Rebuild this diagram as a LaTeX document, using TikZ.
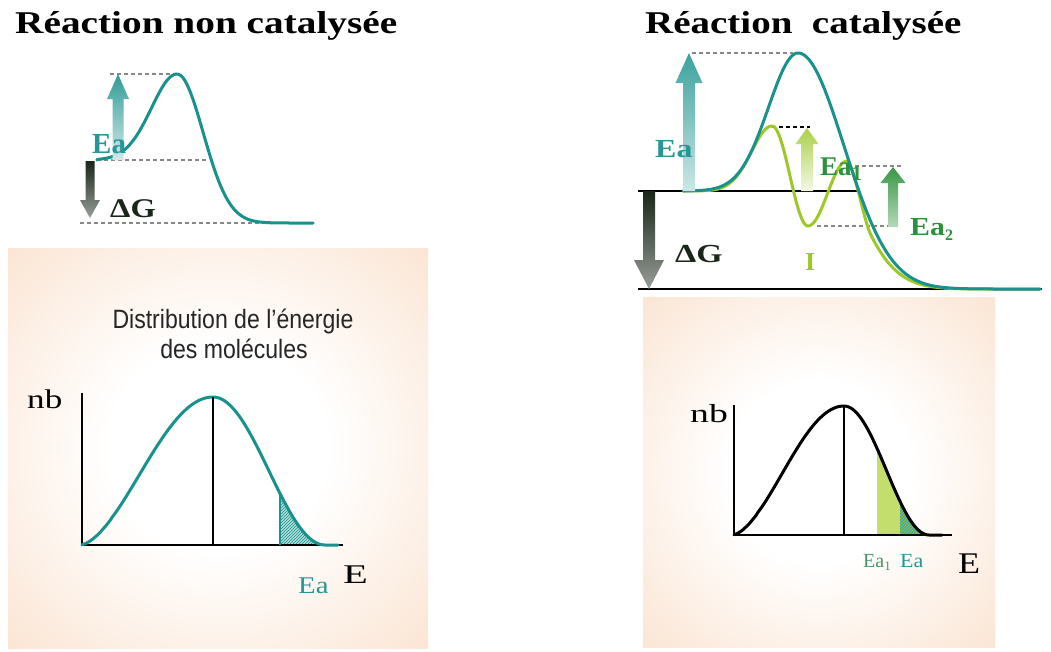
\documentclass[tikz,border=0pt]{standalone}
\usepackage{fontspec}
\usepackage{graphicx}
\setmainfont{Liberation Serif}
\newfontfamily\sansf{Liberation Sans}
\usetikzlibrary{patterns}
\definecolor{tealc}{RGB}{25,145,140}
\definecolor{tealtxt}{RGB}{40,150,150}
\definecolor{yg}{RGB}{158,200,40}
\definecolor{grn}{RGB}{45,145,60}
\definecolor{grnlbl}{RGB}{70,150,100}
\definecolor{peach}{RGB}{250,224,203}
\definecolor{dkg}{RGB}{25,38,25}
\definecolor{dashg}{RGB}{135,135,135}
\definecolor{lighttealfill}{RGB}{175,222,218}
\definecolor{lightyg}{RGB}{196,222,110}
\pgfdeclareradialshading{softglow}{\pgfpoint{0bp}{0bp}}{color(0bp)=(white); color(13bp)=(white); color(40bp)=(peach); color(50bp)=(peach)}
\newcommand{\fs}[1]{\fontsize{#1}{#1}\selectfont}
\newcommand{\blockarr}[8]{\shade[top color=#7,bottom color=#8] ({#1-#4},#2) -- ({#1-#4},#6) -- ({#1-#5},#6) -- (#1,#3) -- ({#1+#5},#6) -- ({#1+#4},#6) -- ({#1+#4},#2) -- cycle;}
\tikzset{
  lbl/.style={inner sep=0pt, anchor=base west},
  curve/.style={line width=3pt, line cap=round, line join=round},
  dashln/.style={dashg, line width=1.2pt, dash pattern=on 4pt off 3pt},
  axis/.style={black, line width=1.2pt},
}
\begin{document}
\begin{tikzpicture}[x=1pt,y=-1pt]
\useasboundingbox (0,0) rectangle (1051,651);
\fill[white] (0,0) rectangle (1051,651);

% ---------- titles ----------
\node[lbl] (titleL) at (15,33) {\fs{31.7}\bfseries\scalebox{1.24}[1]{Réaction non catalysée}};
\node[lbl] (titleR) at (645,33) {\fs{31.7}\bfseries\scalebox{1.23}[1]{Réaction\ \ catalysée}};

% ---------- left energy diagram ----------
\draw[dashln] (110,74) -- (177,74);
\draw[dashln] (97,160) -- (208,160);
\draw[dashln] (80,223) -- (313,223);
\draw[tealc, curve] (97,160) -- plot[domain=97:177,samples=50] (\x,{160-86*exp(-(((\x-177)/36)^2))})
   -- plot[domain=177:313,samples=70] (\x,{223-149*exp(-(((\x-177)/37)^2))});
\blockarr{118}{160}{74}{5.5}{11}{99}{tealc!90!white}{tealc!20!white}
\blockarr{90}{161}{218}{4.5}{10}{200}{dkg}{dkg!45!white}
\node[lbl, text=tealtxt] (eaL) at (92,153) {\fs{29}\bfseries Ea};
\node[lbl, text=dkg] (dgL) at (110,217) {\fs{27}\bfseries\scalebox{1.2}[1]{ΔG}};

% ---------- right energy diagram ----------
\draw[black, line width=1.3pt] (638,191) -- (857,191);
\draw[black, line width=1.3pt] (638,289) -- (1042,289);
\draw[dashln] (692,53) -- (793,53);
\draw[black, line width=1.5pt, dash pattern=on 4pt off 3pt] (772,127) -- (810,127);
\draw[dashln] (848,166) -- (903,166);
\draw[dashln] (817,226) -- (900,226);
\draw[yg, curve] (683,191) -- plot[domain=683:772,samples=50] (\x,{191-65*exp(-(((\x-772)/29)^2))})
   -- plot[domain=772:808,samples=25] (\x,{176-50*cos((\x-772)/36*180)})
   -- plot[domain=808:847,samples=25] (\x,{193.5+32.5*cos((\x-808)/39*180)})
   .. controls (853,161) and (864,220.6) .. (870,233)
   -- plot[domain=870:1040,samples=80] (\x,{289-236*exp(-(((\x-792)/65)^2))});
\draw[tealc, curve] (683,191) -- plot[domain=683:798,samples=60] (\x,{191-138*exp(-(((\x-798)/41.7)^2))})
   -- plot[domain=798:1040,samples=110] (\x,{289-236*exp(-(((\x-798)/65)^2))});
\blockarr{689}{191}{53}{6}{13.5}{83}{tealc!85!white}{tealc!22!white}
\blockarr{649}{191}{289}{6}{15}{260}{dkg}{dkg!45!white}
\blockarr{807}{191}{128}{6}{11.5}{144}{yg!85!white}{yg!12!white}
\blockarr{893}{227}{167}{5}{12.5}{183}{grn!95!white}{grn!35!white}
\node[lbl, text=tealtxt] (eaR) at (655,157) {\fs{26}\bfseries\scalebox{1.23}[1]{Ea}};
\node[lbl, text=dkg] (dgR) at (675,262) {\fs{26}\bfseries\scalebox{1.3}[1]{ΔG}};
\node[lbl, text=grn] (ea1) at (820,175) {\fs{27}\bfseries Ea\raisebox{-5pt}{\fs{21}1}};
\node[lbl, text=grn] (ea2) at (910,235) {\fs{26}\bfseries\scalebox{1.15}[1]{Ea}\raisebox{-5pt}{\fs{16}2}};
\node[lbl, text=yg] (interm) at (805,270) {\fs{26}\bfseries I};

% ---------- left distribution panel ----------
\shade[shading=softglow] (8,248) rectangle (428,648);
\fill[lighttealfill] (280,545) -- plot[domain=280:325,samples=30] (\x,{545-148*(1+cos((\x-213)/112*180))/2}) -- (325,545) -- cycle;
\fill[pattern=north east lines, pattern color=tealc] (280,545) -- plot[domain=280:325,samples=30] (\x,{545-148*(1+cos((\x-213)/112*180))/2}) -- (325,545) -- cycle;
\draw[axis] (82,393) -- (82,545) -- (343,545);
\draw[tealc, line width=1.2pt] (280,545) -- (280,{545-148*(1+cos(67/112*180))/2});
\draw[tealc, curve] plot[domain=82:213,samples=70] (\x,{545-148*(((1+cos((\x-213)/133*180))/2)^0.85)})
   -- plot[domain=213:325,samples=60] (\x,{545-148*(1+cos((\x-213)/112*180))/2}) -- (338,545);
\draw[axis] (213,397) -- (213,545);
\node[inner sep=0pt, anchor=base, text=black!85] (dist1) at (233,328) {\sansf\fs{26.5}\scalebox{0.87}[1]{Distribution de l’énergie}};
\node[inner sep=0pt, anchor=base, text=black!85] (dist2) at (234,358) {\sansf\fs{26.5}\scalebox{0.87}[1]{des molécules}};
\node[lbl] (nbL) at (27,408) {\fs{27}\scalebox{1.3}[1]{nb}};
\node[lbl] (eL) at (343,583) {\fs{27}\scalebox{1.5}[1]{E}};
\node[lbl, text=tealtxt] (eaDL) at (298,593) {\fs{24}\scalebox{1.2}[1]{Ea}};

% ---------- right distribution panel ----------
\shade[shading=softglow] (643,297) rectangle (995,647);
\fill[lightyg] (877,535) -- plot[domain=877:900,samples=20] (\x,{535-129*(1+cos((\x-844)/85*180))/2}) -- (900,535) -- cycle;
\fill[tealc!80!white] (900,535) -- plot[domain=900:929,samples=20] (\x,{535-129*(1+cos((\x-844)/85*180))/2}) -- (929,535) -- cycle;
\fill[pattern=north east lines, pattern color=yg] (900,535) -- plot[domain=900:929,samples=20] (\x,{535-129*(1+cos((\x-844)/85*180))/2}) -- (929,535) -- cycle;
\draw[axis] (734,405) -- (734,535) -- (952,535);
\draw[black, curve] plot[domain=734:844,samples=70] (\x,{535-129*(((1+cos((\x-844)/112*180))/2)^0.85)})
   -- plot[domain=844:929,samples=50] (\x,{535-129*(1+cos((\x-844)/85*180))/2}) -- (942,535);
\draw[axis] (844,406) -- (844,535);
\node[lbl] (nbR) at (690,422) {\fs{26}\scalebox{1.45}[1]{nb}};
\node[lbl] (eR) at (958,573) {\fs{30}\scalebox{1.2}[1]{E}};
\node[lbl, text=grnlbl] (ea1D) at (863,567) {\fs{20}Ea\raisebox{-3pt}{\fs{13}1}};
\node[lbl, text=tealtxt] (eaDR) at (900,567) {\fs{20}\scalebox{1.1}[1]{Ea}};
\end{tikzpicture}
\end{document}
